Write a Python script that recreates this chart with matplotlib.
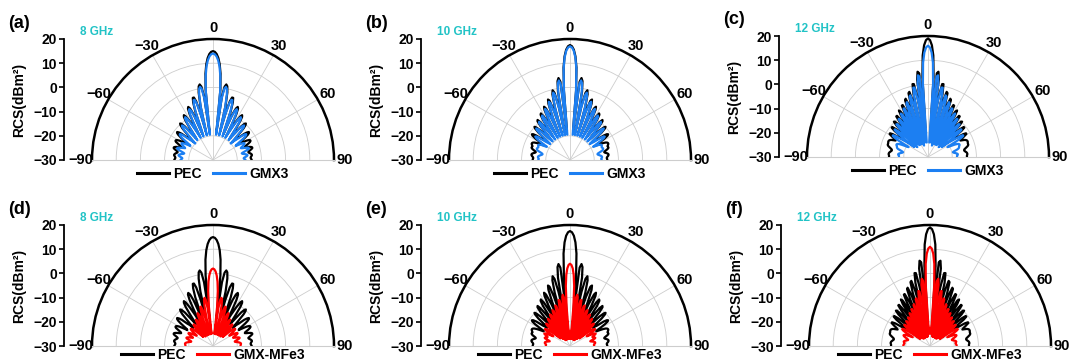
import numpy as np
import matplotlib
matplotlib.use("Agg")
import matplotlib.pyplot as plt
from matplotlib.lines import Line2D

plt.rcParams["font.family"] = ["Liberation Sans", "DejaVu Sans"]
plt.rcParams["font.weight"] = "bold"
plt.rcParams["axes.unicode_minus"] = True

# Observation angle (deg) from broadside; patterns are symmetric, so only 0..90 is stored
angle_half = np.arange(0, 91)

# Monostatic RCS (dBm^2) at 1 deg steps, 0..90 deg
pec_8ghz = [
    15.0, 14.7, 13.8, 12.2, 9.7, 5.8, -0.8, -18.0, -3.4, 0.7,
    1.7, 1.0, -1.5, -6.8, -18.0, -10.1, -4.8, -3.0, -3.0, -4.8,
    -8.6, -16.0, -18.5, -9.6, -6.7, -5.8, -6.4, -8.7, -13.4, -18.5,
    -15.0, -11.4, -8.8, -7.9, -8.5, -10.3, -13.9, -17.0, -18.5, -15.7,
    -11.9, -10.2, -9.7, -10.3, -11.8, -14.7, -17.0, -19.0, -17.0, -15.9,
    -13.2, -11.9, -11.2, -11.4, -12.2, -13.7, -15.5, -17.0, -17.5, -16.0,
    -14.0, -13.0, -12.6, -12.6, -13.0, -13.8, -14.8, -15.6, -15.8, -15.2,
    -14.2, -13.4, -13.0, -13.0, -13.4, -14.0, -14.6, -15.0, -15.0, -14.7,
    -14.3, -14.0, -13.8, -13.8, -14.0, -14.2, -14.4, -14.4, -14.3, -14.1,
    -14.0]
gmx3_8ghz = [
    14.0, 13.7, 12.8, 11.2, 8.7, 4.8, -1.8, -19.5, -4.4, -0.3,
    0.7, 0.0, -2.5, -7.8, -19.5, -11.1, -5.8, -4.0, -4.0, -5.8,
    -9.6, -17.0, -19.5, -10.6, -7.7, -6.8, -7.4, -9.7, -14.4, -19.5,
    -16.0, -12.4, -9.8, -8.9, -9.5, -11.3, -14.9, -18.0, -19.5, -16.7,
    -13.0, -11.3, -10.8, -11.4, -12.9, -15.7, -18.0, -20.0, -18.0, -17.0,
    -14.5, -13.2, -12.6, -12.8, -13.6, -15.0, -17.0, -18.5, -19.0, -18.0,
    -16.5, -15.6, -15.3, -15.4, -15.8, -16.5, -17.2, -17.5, -17.0, -16.0,
    -15.0, -14.5, -14.4, -14.8, -15.6, -16.5, -17.3, -17.8, -17.6, -17.0,
    -16.3, -15.8, -15.6, -15.8, -16.2, -16.7, -17.2, -17.3, -17.1, -16.8,
    -16.6]
mfe3_8ghz = [
    2.0, 1.7, 0.8, -0.8, -3.3, -7.2, -13.8, -25.0, -14.0, -10.5,
    -9.8, -10.5, -13.0, -18.0, -25.0, -19.0, -14.5, -13.0, -13.0, -14.5,
    -18.0, -23.0, -25.0, -18.5, -15.8, -15.0, -15.5, -17.5, -21.0, -25.0,
    -22.0, -19.0, -17.5, -17.0, -17.5, -18.8, -21.5, -24.0, -25.0, -22.5,
    -19.5, -18.3, -18.0, -18.3, -19.3, -21.0, -23.0, -24.5, -23.0, -21.0,
    -19.5, -18.7, -18.4, -18.5, -19.0, -20.0, -21.0, -22.0, -22.0, -21.0,
    -19.8, -19.0, -18.6, -18.6, -19.0, -19.7, -20.5, -21.0, -21.0, -20.4,
    -19.6, -19.0, -18.6, -18.5, -18.7, -19.2, -19.8, -20.4, -20.8, -20.8,
    -20.4, -19.8, -19.2, -18.8, -18.5, -18.4, -18.4, -18.5, -18.6, -18.6,
    -18.6]

pec_10ghz = [
    17.5, 17.0, 15.6, 12.9, 8.3, -1.1, -18.0, 2.6, 4.2, 3.0,
    -1.4, -18.0, -7.0, -1.5, -0.3, -1.9, -7.1, -18.0, -8.7, -4.1,
    -3.4, -5.1, -10.4, -18.0, -10.9, -6.5, -5.5, -6.8, -11.1, -18.0,
    -15.1, -9.2, -7.3, -7.7, -10.0, -16.3, -18.0, -14.5, -10.2, -8.7,
    -9.1, -11.3, -16.4, -18.0, -17.5, -12.9, -10.6, -9.9, -10.7, -12.7,
    -17.0, -18.0, -17.0, -16.0, -12.8, -11.4, -11.0, -11.5, -12.9, -15.2,
    -17.5, -17.5, -16.0, -14.5, -13.5, -13.0, -12.8, -12.8, -13.0, -13.3,
    -13.5, -13.4, -13.3, -13.5, -14.0, -14.6, -15.2, -15.5, -15.3, -14.8,
    -14.3, -14.0, -13.9, -14.0, -14.2, -14.5, -14.7, -14.8, -14.7, -14.6,
    -14.6]
gmx3_10ghz = [
    17.0, 16.5, 15.1, 12.4, 7.8, -1.6, -19.5, 1.6, 3.2, 2.0,
    -2.4, -19.5, -8.0, -2.5, -1.3, -2.9, -8.1, -19.5, -9.7, -5.1,
    -4.4, -6.1, -11.4, -19.5, -11.9, -7.5, -6.5, -7.8, -12.1, -19.5,
    -16.1, -10.2, -8.3, -8.7, -11.0, -17.3, -19.5, -15.5, -11.2, -9.7,
    -10.1, -12.3, -17.4, -19.5, -18.5, -13.9, -11.6, -10.9, -11.7, -13.7,
    -18.0, -19.5, -18.5, -17.5, -14.3, -13.0, -12.7, -13.3, -14.8, -17.0,
    -19.0, -18.5, -17.0, -16.0, -15.6, -15.5, -15.6, -15.8, -15.9, -15.8,
    -15.6, -15.5, -15.6, -15.8, -16.3, -17.0, -17.7, -18.2, -18.4, -18.3,
    -18.0, -17.6, -17.2, -16.9, -16.7, -16.7, -16.8, -17.0, -17.1, -17.0,
    -16.9]
mfe3_10ghz = [
    4.0, 3.5, 2.1, -0.6, -5.2, -14.0, -27.0, -10.0, -8.6, -9.5,
    -14.0, -27.0, -14.0, -10.5, -10.5, -13.0, -18.0, -27.0, -16.0, -12.5,
    -12.2, -14.0, -19.0, -27.0, -18.0, -14.0, -13.5, -14.5, -19.0, -27.0,
    -21.0, -15.5, -14.6, -14.8, -17.0, -22.0, -27.0, -20.0, -16.5, -15.5,
    -16.0, -17.5, -22.0, -26.0, -23.0, -18.0, -16.8, -16.5, -17.2, -19.0,
    -23.0, -25.0, -23.0, -20.0, -18.5, -17.8, -17.5, -18.0, -19.2, -21.0,
    -22.0, -21.0, -19.5, -18.6, -18.2, -18.4, -19.0, -19.6, -20.0, -20.0,
    -19.6, -19.2, -19.0, -19.2, -19.8, -20.6, -21.2, -21.4, -21.0, -20.4,
    -19.9, -19.6, -19.5, -19.5, -19.6, -19.8, -20.0, -20.1, -20.1, -20.0,
    -20.0]

pec_12ghz = [
    19.0, 18.3, 16.2, 12.0, 3.1, -18.0, 4.8, 5.5, 2.3, -18.0,
    -5.2, 0.7, 0.8, -3.3, -18.0, -6.3, -2.0, -2.4, -7.1, -18.0,
    -7.8, -4.2, -4.7, -9.4, -18.0, -9.9, -6.1, -6.2, -9.9, -18.0,
    -13.7, -8.3, -7.3, -9.3, -17.0, -18.0, -11.7, -8.7, -8.7, -11.4,
    -17.0, -18.0, -12.9, -10.0, -9.7, -11.5, -17.0, -18.0, -17.0, -12.4,
    -10.7, -10.7, -12.4, -17.0, -18.0, -17.0, -15.8, -12.7, -11.5, -11.5,
    -12.5, -13.5, -14.5, -15.0, -14.2, -13.3, -12.8, -12.5, -12.4, -12.4,
    -12.5, -12.6, -12.6, -12.6, -12.8, -13.2, -13.7, -14.2, -14.6, -14.8,
    -14.8, -14.6, -14.3, -14.0, -13.8, -13.7, -13.7, -13.8, -13.9, -13.9,
    -13.9]
gmx3_12ghz = [
    16.0, 15.3, 13.2, 9.0, 0.1, -24.0, 3.3, 4.0, 0.8, -23.0,
    -6.7, -0.8, -0.7, -4.8, -24.0, -7.8, -3.5, -3.9, -8.6, -25.0,
    -9.3, -5.7, -6.2, -10.9, -23.0, -11.4, -7.6, -7.7, -11.4, -24.0,
    -15.2, -9.8, -8.8, -10.8, -18.0, -24.0, -13.2, -10.2, -10.2, -12.9,
    -19.0, -23.0, -14.4, -11.5, -11.2, -13.0, -19.0, -24.0, -18.5, -13.9,
    -12.2, -12.2, -13.9, -19.0, -23.0, -19.5, -17.3, -14.2, -13.0, -13.0,
    -14.0, -16.3, -19.0, -21.0, -20.0, -18.0, -16.8, -16.2, -16.0, -16.0,
    -16.2, -16.4, -16.5, -16.6, -16.8, -17.2, -17.8, -18.6, -19.2, -19.5,
    -19.4, -19.0, -18.5, -18.0, -17.7, -17.6, -17.7, -17.9, -18.0, -18.0,
    -18.0]
mfe3_12ghz = [
    11.0, 10.3, 8.2, 4.0, -4.9, -25.0, -3.0, -2.0, -4.5, -25.0,
    -12.0, -7.0, -6.8, -9.5, -26.0, -13.5, -9.5, -9.8, -13.5, -26.0,
    -15.0, -11.5, -11.8, -15.5, -25.0, -16.5, -13.0, -13.0, -16.0, -26.0,
    -19.0, -14.5, -14.0, -15.5, -21.0, -26.0, -18.0, -15.2, -15.2, -17.5,
    -22.0, -26.0, -18.5, -16.0, -15.8, -17.3, -21.5, -25.0, -21.0, -17.4,
    -16.3, -16.3, -17.6, -21.0, -25.0, -22.0, -19.0, -17.2, -16.6, -16.6,
    -17.2, -18.5, -20.5, -22.0, -21.0, -19.5, -18.7, -18.3, -18.2, -18.4,
    -18.8, -19.3, -19.8, -20.3, -20.6, -20.6, -20.3, -19.9, -19.5, -19.2,
    -19.0, -19.0, -19.2, -19.4, -19.4, -19.3, -19.2, -19.1, -19.0, -19.0,
    -19.0]

panel_tags = ["(a)", "(b)", "(c)", "(d)", "(e)", "(f)"]
freq_labels = ["8 GHz", "10 GHz", "12 GHz", "8 GHz", "10 GHz", "12 GHz"]
series_names = ["PEC", "GMX3", "GMX-MFe3"]
theta_ticks = [-90, -60, -30, 0, 30, 60, 90]
theta_ticklabels = ["\u221290", "\u221260", "\u221230", "0", "30", "60", "90"]
r_ticks = [-30, -20, -10, 0, 10, 20]

C_PEC = "black"
C_GMX3 = "#1c7ff2"
C_MFE3 = "#ff0000"
C_FREQ = "#22c3c6"

W, H = 1072, 362
fig = plt.figure(figsize=(W / 100, H / 100), dpi=100)

R = 121
layout = [(213, 160), (570, 160), (928, 157), (213, 346), (570, 346), (930, 346)]
panels = [
    (pec_8ghz, gmx3_8ghz, C_GMX3, series_names[1]),
    (pec_10ghz, gmx3_10ghz, C_GMX3, series_names[1]),
    (pec_12ghz, gmx3_12ghz, C_GMX3, series_names[1]),
    (pec_8ghz, mfe3_8ghz, C_MFE3, series_names[2]),
    (pec_10ghz, mfe3_10ghz, C_MFE3, series_names[2]),
    (pec_12ghz, mfe3_12ghz, C_MFE3, series_names[2]),
]


def full_pattern(values):
    v = np.asarray(values, dtype=float)
    ang = np.concatenate([-angle_half[:0:-1], angle_half])
    val = np.concatenate([v[:0:-1], v])
    return np.deg2rad(ang), val


for i, ((cx, base), (pec, coat, ccol, cname)) in enumerate(zip(layout, panels)):
    # the half-disc is fitted into a square box, centred vertically
    ax = fig.add_axes([(cx - R) / W, (H - (base + 0.5 * R)) / H, 2 * R / W, 2 * R / H],
                      projection="polar")
    ax.set_theta_zero_location("N")
    ax.set_theta_direction(-1)
    ax.set_thetamin(-90)
    ax.set_thetamax(90)
    ax.set_rlim(-30, 20)
    ax.set_rticks(r_ticks[1:-1])
    ax.set_yticklabels([])
    ax.set_xticks(np.deg2rad(theta_ticks))
    ax.set_xticklabels(theta_ticklabels, fontsize=10.5, fontweight="bold")
    ax.set_xticks(np.deg2rad(np.arange(-90, 91, 15)), minor=True)
    ax.tick_params(axis="x", which="both", direction="in", length=4,
                   width=1.2, colors="black", pad=1)
    ax.tick_params(axis="y", length=0)
    ax.grid(True, color="#cdcdcd", lw=0.6)
    ax.spines["polar"].set_linewidth(1.8)
    for s in ("start", "end"):
        ax.spines[s].set_color("#cdcdcd")
        ax.spines[s].set_linewidth(0.8)

    th, rv = full_pattern(pec)
    ax.plot(th, rv, color=C_PEC, lw=1.6, solid_joinstyle="round", zorder=3)
    th, rv = full_pattern(coat)
    ax.plot(th, rv, color=ccol, lw=1.6, solid_joinstyle="round", zorder=4)

    # radial scale drawn as a separate vertical axis on the left
    ay = fig.add_axes([(cx - 149) / W, (H - base) / H, 0.002, R / H])
    ay.set_ylim(-30, 20)
    ay.set_yticks(r_ticks)
    ay.set_xticks([])
    for s in ("top", "right", "bottom"):
        ay.spines[s].set_visible(False)
    ay.spines["left"].set_linewidth(1.3)
    ay.patch.set_visible(False)
    ay.tick_params(axis="y", direction="out", length=3.5, width=1.2,
                   labelsize=10, pad=1.5)
    for lab in ay.get_yticklabels():
        lab.set_fontweight("bold")

    fig.text((cx - 194) / W, 1 - (base - R / 2) / H, "RCS(dBm\u00b2)",
             rotation=90, ha="center", va="center", fontsize=10,
             fontweight="bold")

    top = base - R
    fig.text((cx - 205) / W, 1 - (top - 16) / H, panel_tags[i],
             ha="left", va="center", fontsize=13, fontweight="bold")
    fig.text((cx - 133) / W, 1 - (top - 7) / H, freq_labels[i],
             ha="left", va="center", fontsize=8.5, fontweight="bold",
             color=C_FREQ)

    handles = [Line2D([], [], color=C_PEC, lw=2.2),
               Line2D([], [], color=ccol, lw=2.2)]
    leg_y = min(base + 14, 355)
    fig.legend(handles, [series_names[0], cname], loc="center",
               bbox_to_anchor=(cx / W, 1 - leg_y / H), ncol=2,
               frameon=False, handlelength=2.3, handletextpad=0.3,
               columnspacing=0.8, borderpad=0,
               prop={"size": 10, "weight": "bold"})

fig.savefig("out.png", dpi=100)
